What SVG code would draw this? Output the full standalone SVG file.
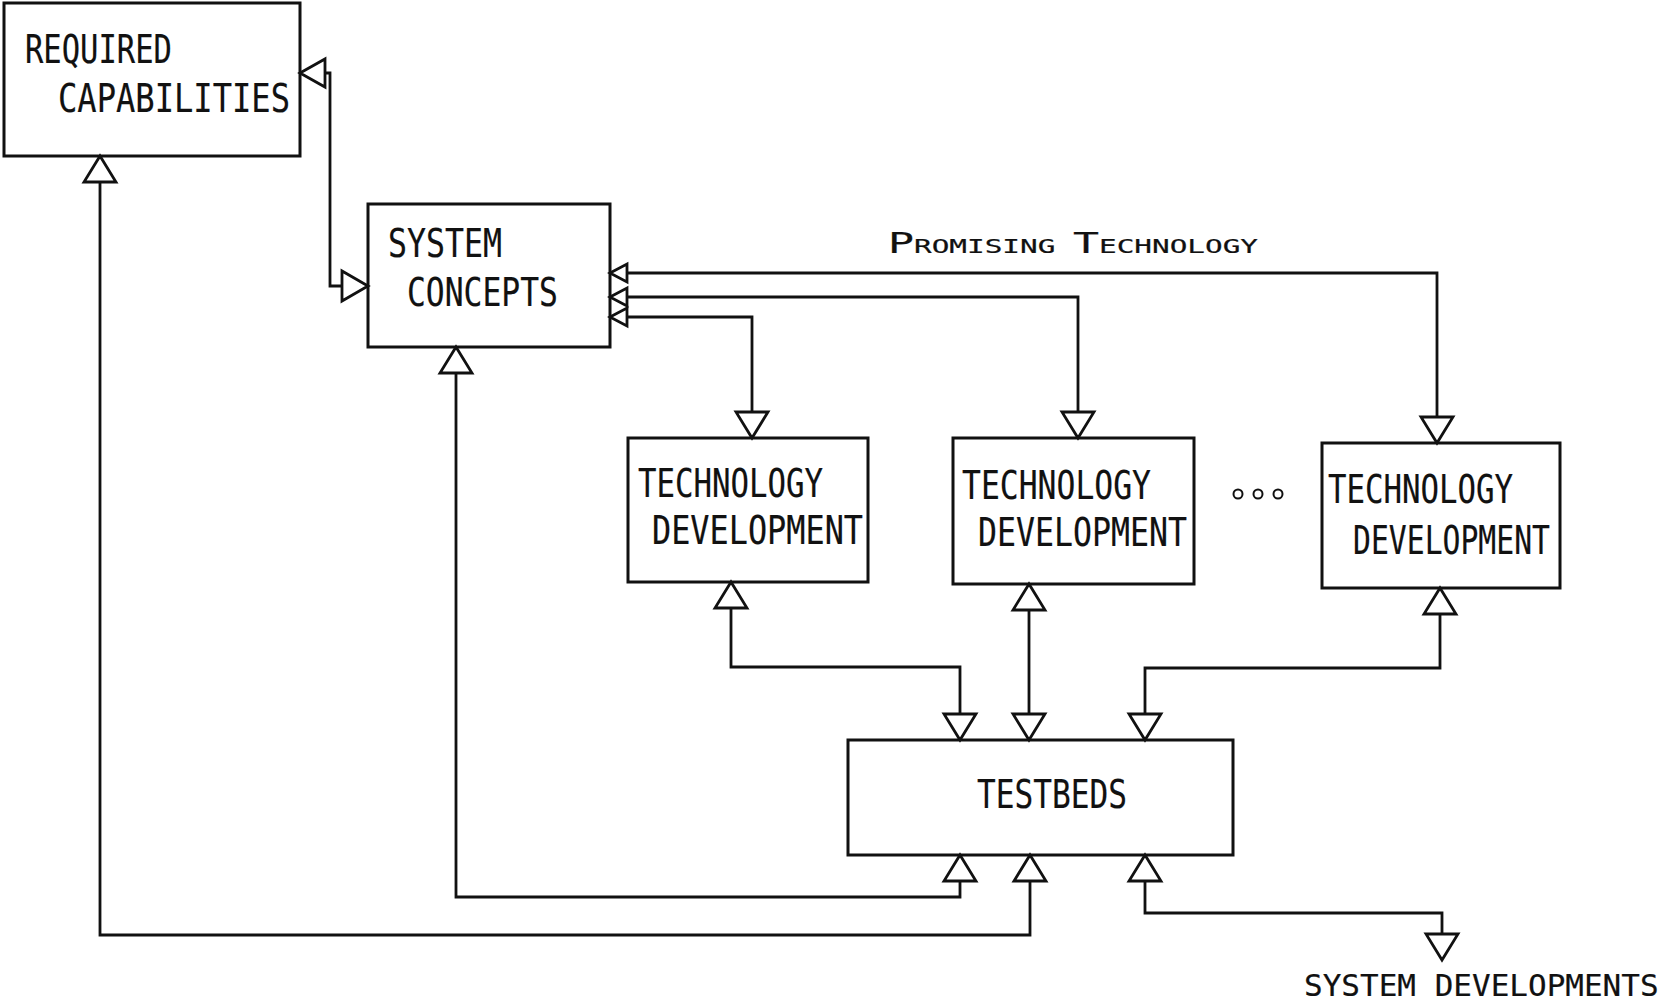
<svg xmlns="http://www.w3.org/2000/svg" xmlns:xlink="http://www.w3.org/1999/xlink" width="1667" height="1005" viewBox="0 0 1667 1005">
<style>
.box{fill:#fff;stroke:#111;stroke-width:3}
.ln{fill:none;stroke:#111;stroke-width:2.8;stroke-linejoin:miter}
.ah{fill:#fff;stroke:#111;stroke-width:2.8;stroke-linejoin:miter}
.t{font-family:"DejaVu Sans Mono","Liberation Mono",monospace;fill:#111;stroke:#111;stroke-width:0.2}
.lb{font-size:39px}
.dot{fill:#fff;stroke:#111;stroke-width:2}
</style>
<defs>
<polygon id="ad" class="ah" points="-16,-26 16,-26 0,0"/>
<polygon id="au" class="ah" points="-16,26 16,26 0,0"/>
<polygon id="al" class="ah" points="0,0 25,-14 25,14"/>
<polygon id="ar" class="ah" points="0,0 -26,-15 -26,15"/>
<polygon id="as" class="ah" points="0,0 17,-9 17,9"/>
</defs>
<rect width="1667" height="1005" fill="#fff"/>

<g id="required-capabilities">
<rect class="box" x="4" y="3" width="296" height="153"/>
<text class="t lb" x="25" y="63" textLength="147" lengthAdjust="spacingAndGlyphs">REQUIRED</text>
<text class="t lb" x="58" y="112" textLength="232" lengthAdjust="spacingAndGlyphs">CAPABILITIES</text>
</g>

<g id="system-concepts">
<rect class="box" x="368" y="204" width="242" height="143"/>
<text class="t lb" x="388" y="257" textLength="114" lengthAdjust="spacingAndGlyphs">SYSTEM</text>
<text class="t lb" x="407" y="306" textLength="151" lengthAdjust="spacingAndGlyphs">CONCEPTS</text>
</g>

<g id="tech-dev-1">
<rect class="box" x="628" y="438" width="240" height="144"/>
<text class="t lb" x="638" y="497" textLength="185" lengthAdjust="spacingAndGlyphs">TECHNOLOGY</text>
<text class="t lb" x="652" y="544" textLength="211" lengthAdjust="spacingAndGlyphs">DEVELOPMENT</text>
</g>

<g id="tech-dev-2">
<rect class="box" x="953" y="438" width="241" height="146"/>
<text class="t lb" x="962" y="499" textLength="189" lengthAdjust="spacingAndGlyphs">TECHNOLOGY</text>
<text class="t lb" x="978" y="546" textLength="209" lengthAdjust="spacingAndGlyphs">DEVELOPMENT</text>
</g>

<g id="ellipsis">
<circle class="dot" cx="1238" cy="494" r="4.5"/>
<circle class="dot" cx="1258" cy="494" r="4.5"/>
<circle class="dot" cx="1278" cy="494" r="4.5"/>
</g>

<g id="tech-dev-3">
<rect class="box" x="1322" y="443" width="238" height="145"/>
<text class="t lb" x="1328" y="503" textLength="185" lengthAdjust="spacingAndGlyphs">TECHNOLOGY</text>
<text class="t lb" x="1353" y="554" textLength="197" lengthAdjust="spacingAndGlyphs">DEVELOPMENT</text>
</g>

<g id="testbeds">
<rect class="box" x="848" y="740" width="385" height="115"/>
<text class="t lb" x="977" y="808" textLength="150" lengthAdjust="spacingAndGlyphs">TESTBEDS</text>
</g>

<g id="system-developments">
<text class="t" font-size="31" x="1304" y="996">SYSTEM DEVELOPMENTS</text>
</g>

<g id="promising-technology-label">
<text class="t" x="888" y="253" textLength="370" lengthAdjust="spacingAndGlyphs"><tspan font-size="28">P</tspan><tspan font-size="19">ROMISING </tspan><tspan font-size="28">T</tspan><tspan font-size="19">ECHNOLOGY</tspan></text>
</g>

<g id="connectors">
<path class="ln" d="M320 73 H330 V286 H342"/>
<use href="#al" x="300" y="73"/>
<use href="#ar" x="368" y="286"/>

<path class="ln" d="M627 273 H1437 V418"/>
<path class="ln" d="M627 297 H1078 V412"/>
<path class="ln" d="M627 317 H752 V412"/>
<use href="#as" x="610" y="273"/>
<use href="#as" x="610" y="297"/>
<use href="#as" x="610" y="317"/>
<use href="#ad" x="1437" y="443"/>
<use href="#ad" x="1078" y="438"/>
<use href="#ad" x="752" y="438"/>

<path class="ln" d="M731 608 V667 H960 V714"/>
<use href="#au" x="731" y="582"/>
<use href="#ad" x="960" y="740"/>

<path class="ln" d="M1029 610 V714"/>
<use href="#au" x="1029" y="584"/>
<use href="#ad" x="1029" y="740"/>

<path class="ln" d="M1440 614 V668 H1145 V714"/>
<use href="#au" x="1440" y="588"/>
<use href="#ad" x="1145" y="740"/>

<path class="ln" d="M960 881 V897 H456 V373"/>
<use href="#au" x="960" y="855"/>
<use href="#au" x="456" y="347"/>

<path class="ln" d="M1030 881 V935 H100 V182"/>
<use href="#au" x="1030" y="855"/>
<use href="#au" x="100" y="156"/>

<path class="ln" d="M1145 881 V913 H1442 V934"/>
<use href="#au" x="1145" y="855"/>
<use href="#ad" x="1442" y="960"/>
</g>
</svg>
